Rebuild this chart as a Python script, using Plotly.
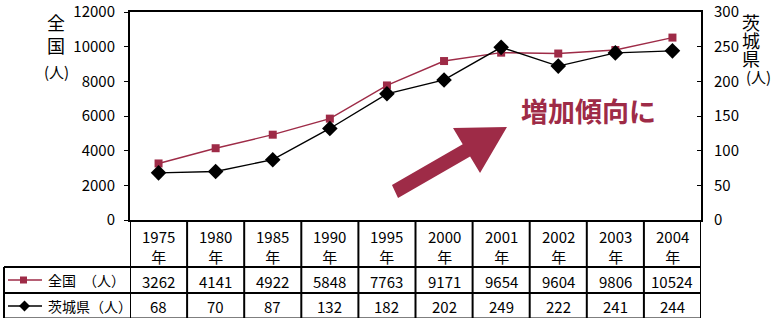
import plotly.graph_objects as go

years = ["1975", "1980", "1985", "1990", "1995", "2000", "2001", "2002", "2003", "2004"]
national = [3262, 4141, 4922, 5848, 7763, 9171, 9654, 9604, 9806, 10524]
ibaraki = [68, 70, 87, 132, 182, 202, 249, 222, 241, 244]
row_labels = ["全国　（人）", "茨城県（人）"]
left_title = ["全", "国", "(人)"]
right_title = ["茨", "城", "県", "(人)"]
note_text = "増加傾向に"
year_suffix = "年"

CRIMSON = "#9E2B47"
FONT = "Noto Sans CJK JP"
W, H = 771, 318
L, R, T, B = 130, 701, 12, 220  # plot area in pixels


def px(x):
    return (x - L) / (R - L)


def py(y):
    return (B - y) / (B - T)


cats = list(range(len(years)))

fig = go.Figure()
fig.add_trace(go.Scatter(
    x=cats, y=national, mode="lines+markers", yaxis="y",
    line=dict(color=CRIMSON, width=1.4),
    marker=dict(symbol="square", size=8, color=CRIMSON),
    cliponaxis=False, showlegend=False, hoverinfo="skip"))
fig.add_trace(go.Scatter(
    x=cats, y=ibaraki, mode="lines+markers", yaxis="y2",
    line=dict(color="black", width=1.4),
    marker=dict(symbol="diamond", size=12, color="black"),
    cliponaxis=False, showlegend=False, hoverinfo="skip"))

shapes = []
annotations = []


def txt(text, x, y, size, color="black", xref="paper", xanchor="center", weight="normal"):
    annotations.append(dict(text=text, xref=xref, yref="paper", x=x, y=py(y),
                            xanchor=xanchor, yanchor="middle", showarrow=False,
                            borderpad=0,
                            font=dict(family=FONT, size=size, color=color, weight=weight)))


# Arrow (decoration) in pixel coords -> paper
arrow_px = [(392, 185), (462.7, 144.2), (453, 128), (507, 127), (480, 173), (470.1, 156.5), (398, 198)]
path = "M " + " L ".join(f"{px(x):.4f},{py(y):.4f}" for x, y in arrow_px) + " Z"
shapes.append(dict(type="path", xref="paper", yref="paper", path=path,
                   fillcolor=CRIMSON, line=dict(width=0)))

txt(note_text, px(588), 110, 27, CRIMSON, weight="bold")

# axis titles
txt("<br>".join(left_title[:2]), px(56), 33.5, 18)
txt(left_title[2], px(56), 71, 15)
for i, ch in enumerate(right_title[:3]):
    txt(ch, px(751), 22 + 18 * i, 18)
txt(right_title[3], px(758), 76, 15)

# table
TOP_ROW1, TOP_ROW2, BOT = 267, 293, 318.5
line_style = dict(color="black", width=2)
for i in range(len(years) + 1):
    shapes.append(dict(type="line", xref="x", yref="paper", x0=i - 0.5, x1=i - 0.5,
                       y0=py(B), y1=py(BOT), line=line_style))
shapes.append(dict(type="line", xref="paper", yref="paper", x0=px(4), x1=px(4),
                   y0=py(TOP_ROW1), y1=py(BOT), line=line_style))
for yy in (TOP_ROW1, TOP_ROW2, BOT):
    shapes.append(dict(type="line", xref="paper", yref="paper", x0=px(4), x1=1,
                       y0=py(yy), y1=py(yy), line=line_style))

for i, yr in enumerate(years):
    txt(f"{yr}<br>{year_suffix}", i, 246.5, 15, xref="x")
    txt(str(national[i]), i, 281, 15, xref="x")
    txt(str(ibaraki[i]), i, 306, 15, xref="x")

for lab, yy in zip(row_labels, (280, 306)):
    txt(lab, px(47), yy, 14, xanchor="left")

# legend glyphs inside table
shapes.append(dict(type="line", xref="paper", yref="paper", x0=px(8), x1=px(42),
                   y0=py(280), y1=py(280), line=dict(color=CRIMSON, width=1.4)))
shapes.append(dict(type="rect", xref="paper", yref="paper", x0=px(20), x1=px(27),
                   y0=py(283.5), y1=py(276.5), fillcolor=CRIMSON, line=dict(width=0)))
shapes.append(dict(type="line", xref="paper", yref="paper", x0=px(8), x1=px(42),
                   y0=py(306), y1=py(306), line=dict(color="black", width=1.4)))
dpath = f"M {px(19):.4f},{py(306):.4f} L {px(24.5):.4f},{py(300.5):.4f} L {px(30):.4f},{py(306):.4f} L {px(24.5):.4f},{py(311.5):.4f} Z"
shapes.append(dict(type="path", xref="paper", yref="paper", path=dpath,
                   fillcolor="black", line=dict(width=0)))

fig.update_layout(
    width=W, height=H,
    margin=dict(l=L, r=W - R, t=T, b=H - B, pad=0, autoexpand=False),
    paper_bgcolor="white", plot_bgcolor="white",
    font=dict(family=FONT, color="black"),
    hovermode=False,
    xaxis=dict(range=[-0.5, len(years) - 0.5], showticklabels=False, ticks="",
               showgrid=False, zeroline=False, showline=True, linecolor="black",
               linewidth=2, mirror=True, automargin=False),
    yaxis=dict(range=[0, 12000], dtick=2000, showgrid=False, zeroline=False,
               showline=True, linecolor="black", linewidth=2, ticks="outside",
               ticklen=4, tickcolor="black", ticklabelstandoff=6, tickformat="d",
               automargin=False,
               tickfont=dict(family=FONT, size=15, color="black")),
    yaxis2=dict(range=[0, 300], dtick=50, overlaying="y", side="right",
                showgrid=False, zeroline=False, showline=True, linecolor="black",
                linewidth=2, ticks="inside", ticklen=4, tickcolor="black",
                ticklabelstandoff=8, tickformat="d", automargin=False,
                tickfont=dict(family=FONT, size=15, color="black")),
    shapes=shapes, annotations=annotations,
)

fig.write_html("out.html", config={"displayModeBar": False},
               post_script="document.body.style.margin='0';document.body.style.overflow='hidden';")
